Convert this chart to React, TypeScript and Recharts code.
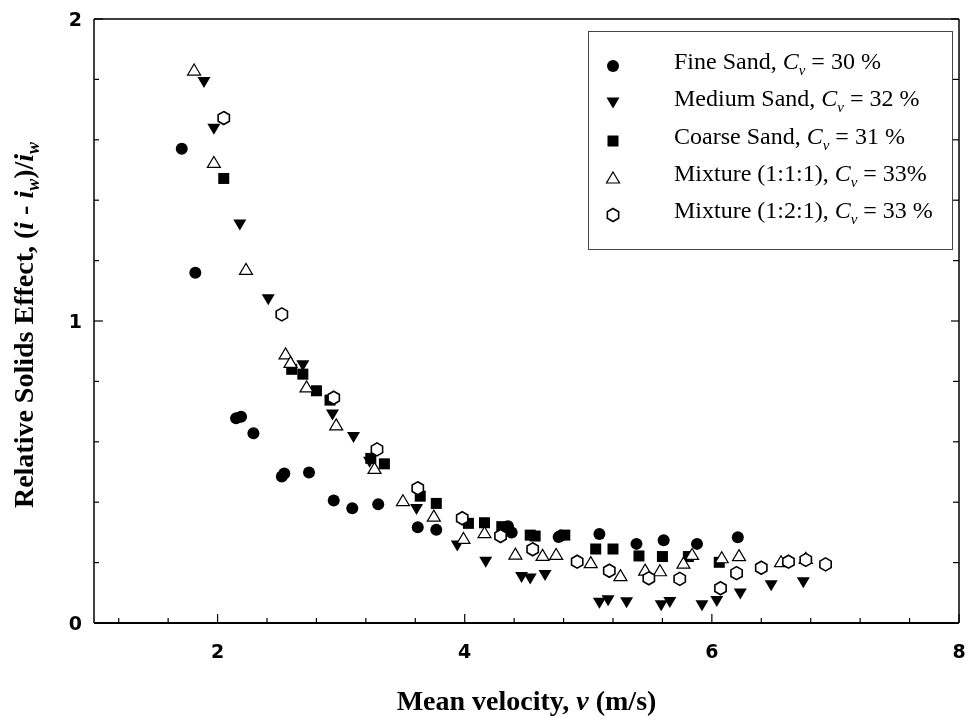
import React from 'react';
import { ScatterChart, Scatter, XAxis, YAxis, Legend } from 'recharts';

// ---- Data (mean velocity v in m/s, relative solids effect) ----
const fineSandV = [1.71, 1.82, 2.15, 2.19, 2.29, 2.52, 2.54, 2.74, 2.94, 3.09, 3.30, 3.62, 3.77, 4.35, 4.38, 4.76, 4.78, 5.09, 5.39, 5.61, 5.88, 6.21];
const fineSandR = [1.57, 1.16, 0.678, 0.683, 0.628, 0.485, 0.495, 0.498, 0.406, 0.38, 0.393, 0.317, 0.309, 0.32, 0.30, 0.285, 0.29, 0.295, 0.262, 0.274, 0.262, 0.284];

const mediumSandV = [1.89, 1.97, 2.18, 2.41, 2.69, 2.93, 3.10, 3.23, 3.61, 3.94, 4.17, 4.46, 4.53, 4.65, 5.09, 5.16, 5.31, 5.59, 5.66, 5.92, 6.04, 6.23, 6.48, 6.74];
const mediumSandR = [1.79, 1.635, 1.318, 1.07, 0.852, 0.689, 0.614, 0.532, 0.376, 0.255, 0.201, 0.151, 0.146, 0.157, 0.065, 0.074, 0.067, 0.057, 0.068, 0.057, 0.071, 0.096, 0.123, 0.133];

const coarseSandV = [2.05, 2.60, 2.69, 2.80, 2.91, 3.24, 3.35, 3.64, 3.77, 4.03, 4.16, 4.30, 4.53, 4.57, 4.81, 5.06, 5.20, 5.41, 5.60, 5.81, 6.06];
const coarseSandR = [1.472, 0.84, 0.824, 0.769, 0.738, 0.545, 0.527, 0.42, 0.396, 0.33, 0.332, 0.319, 0.291, 0.288, 0.291, 0.245, 0.245, 0.222, 0.22, 0.22, 0.201];

const mix111V = [1.81, 1.97, 2.23, 2.55, 2.59, 2.72, 2.96, 3.27, 3.50, 3.75, 3.99, 4.16, 4.41, 4.63, 4.74, 5.02, 5.26, 5.46, 5.58, 5.77, 5.84, 6.08, 6.22, 6.56, 6.76];
const mix111R = [1.831, 1.525, 1.171, 0.891, 0.863, 0.782, 0.656, 0.512, 0.405, 0.354, 0.28, 0.299, 0.228, 0.224, 0.227, 0.2, 0.157, 0.175, 0.173, 0.198, 0.227, 0.216, 0.223, 0.203, 0.214];

const mix121V = [2.05, 2.52, 2.94, 3.29, 3.62, 3.98, 4.29, 4.55, 4.91, 5.17, 5.49, 5.74, 6.07, 6.20, 6.40, 6.62, 6.76, 6.92];
const mix121R = [1.672, 1.022, 0.746, 0.575, 0.446, 0.347, 0.288, 0.244, 0.203, 0.173, 0.148, 0.146, 0.115, 0.165, 0.183, 0.203, 0.209, 0.194];

const xTicks = [1.2, 1.6, 2, 2.4, 2.8, 3.2, 3.6, 4, 4.4, 4.8, 5.2, 5.6, 6, 6.4, 6.8, 7.2, 7.6, 8];
const xLabelTicks = [2, 4, 6, 8];
const yTicks = [0, 0.2, 0.4, 0.6, 0.8, 1, 1.2, 1.4, 1.6, 1.8, 2];
const yLabelTicks = [0, 1, 2];

const seriesNames = ['Fine Sand', 'Medium Sand', 'Coarse Sand', 'Mixture (1:1:1)', 'Mixture (1:2:1)'];
const seriesCv = ['= 30 %', '= 32 %', '= 31 %', '= 33%', '= 33 %'];

const toPoints = (vs: number[], rs: number[]) => vs.map((v, i) => ({ v, r: rs[i] }));
const fineData = toPoints(fineSandV, fineSandR);
const mediumData = toPoints(mediumSandV, mediumSandR);
const coarseData = toPoints(coarseSandV, coarseSandR);
const mix111Data = toPoints(mix111V, mix111R);
const mix121Data = toPoints(mix121V, mix121R);

// ---- Marker shapes ----
const CircleMark = ({ cx, cy }: any) => <circle cx={cx} cy={cy} r={6} fill="#000" />;
const DownTriMark = ({ cx, cy }: any) => (
  <polygon points={`${cx - 6.5},${cy - 5.5} ${cx + 6.5},${cy - 5.5} ${cx},${cy + 5.5}`} fill="#000" />
);
const SquareMark = ({ cx, cy }: any) => <rect x={cx - 5.5} y={cy - 5.5} width={11} height={11} fill="#000" />;
const UpTriMark = ({ cx, cy }: any) => (
  <polygon points={`${cx},${cy - 6} ${cx + 6.5},${cy + 5} ${cx - 6.5},${cy + 5}`} fill="#fff" stroke="#000" strokeWidth={1.2} />
);
const HexMark = ({ cx, cy }: any) => {
  const r = 6.5;
  const pts = [-90, -30, 30, 90, 150, 210]
    .map((a) => `${cx + r * Math.cos((a * Math.PI) / 180)},${cy + r * Math.sin((a * Math.PI) / 180)}`)
    .join(' ');
  return <polygon points={pts} fill="#fff" stroke="#000" strokeWidth={1.6} />;
};
const markers = [CircleMark, DownTriMark, SquareMark, UpTriMark, HexMark];

const isIn = (v: number, list: number[]) => list.some((m) => Math.abs(m - v) < 1e-6);

const tickFont = { fontFamily: '"DejaVu Sans", "Liberation Sans", Arial, sans-serif', fontWeight: 'bold' as const, fontSize: 19 };

const BottomTick = ({ x, y, payload }: any) => {
  const major = isIn(payload.value, xLabelTicks);
  return (
    <g>
      <line x1={x} x2={x} y1={y} y2={y - (major ? 9 : 5)} stroke="#000" strokeWidth={1.2} />
      {major && (
        <text x={x} y={y + 35} textAnchor="middle" fill="#000" {...tickFont}>
          {payload.value}
        </text>
      )}
    </g>
  );
};
const TopTick = ({ x, y, payload }: any) => {
  const major = isIn(payload.value, xLabelTicks);
  return <line x1={x} x2={x} y1={y} y2={y + (major ? 8 : 5)} stroke="#000" strokeWidth={1.2} />;
};
const LeftTick = ({ x, y, payload }: any) => {
  const major = isIn(payload.value, yLabelTicks);
  return (
    <g>
      <line x1={x} x2={x + (major ? 9 : 5)} y1={y} y2={y} stroke="#000" strokeWidth={1.2} />
      {major && (
        <text x={x - 12} y={y} dy="0.36em" textAnchor="end" fill="#000" {...tickFont}>
          {payload.value}
        </text>
      )}
    </g>
  );
};
const RightTick = ({ x, y, payload }: any) => {
  const major = isIn(payload.value, yLabelTicks);
  return <line x1={x} x2={x - (major ? 8 : 6)} y1={y} y2={y} stroke="#000" strokeWidth={1.2} />;
};

const titleFont = { fontFamily: '"Liberation Serif", "Times New Roman", serif', fontWeight: 'bold' as const, fontSize: 28, fill: '#000' };

const XTitle = (props: any) => {
  const vb = props.viewBox;
  return (
    <text x={vb.x + vb.width / 2} y={vb.y + 87} textAnchor="middle" {...titleFont}>
      Mean velocity, <tspan fontStyle="italic">v</tspan> (m/s)
    </text>
  );
};

const YTitle = (props: any) => {
  const vb = props.viewBox;
  const cx = vb.x + 33;
  const cy = vb.y + vb.height / 2 + 4;
  return (
    <text x={cx} y={cy} transform={`rotate(-90, ${cx}, ${cy})`} textAnchor="middle" {...titleFont}>
      Relative Solids Effect, (<tspan fontStyle="italic">i</tspan> - <tspan fontStyle="italic">i</tspan>
      <tspan fontStyle="italic" fontSize={18} dy={6}>w</tspan>
      <tspan dy={-6}>)/</tspan>
      <tspan fontStyle="italic">i</tspan>
      <tspan fontStyle="italic" fontSize={18} dy={6}>w</tspan>
    </text>
  );
};

const LegendBox = () => (
  <div
    style={{
      position: 'relative',
      boxSizing: 'border-box',
      width: 365,
      height: 219,
      border: '1.5px solid #444',
      background: '#fff',
      fontFamily: '"Liberation Serif", "Times New Roman", serif',
      fontSize: 24,
      color: '#000',
    }}
  >
    {seriesNames.map((name, i) => {
      const M = markers[i];
      return (
        <div key={name} style={{ position: 'absolute', left: 0, top: 11 + i * 37.3, width: '100%', height: 37 }}>
          <svg width={16} height={16} style={{ position: 'absolute', left: 16, top: 15 }}>
            <M cx={8} cy={8} />
          </svg>
          <span style={{ position: 'absolute', left: 85, top: 0, whiteSpace: 'nowrap', lineHeight: '37px' }}>
            {name}, <i>C</i>
            <i style={{ fontSize: 15, position: 'relative', top: 6 }}>v</i> {seriesCv[i]}
          </span>
        </div>
      );
    })}
  </div>
);

export default function App() {
  return (
    <div style={{ position: 'fixed', left: 0, top: 0 }}>
      <ScatterChart width={967} height={717} margin={{ top: 18, right: 7, left: 0, bottom: 0 }}>
        <XAxis
          xAxisId="b"
          dataKey="v"
          type="number"
          domain={[1, 8]}
          ticks={xTicks}
          interval={0}
          allowDataOverflow
          height={94}
          tickSize={0}
          tickMargin={0}
          tickLine={false}
          tick={<BottomTick />}
          axisLine={{ stroke: '#000', strokeWidth: 2 }}
          label={<XTitle />}
        />
        <XAxis
          xAxisId="t"
          orientation="top"
          type="number"
          domain={[1, 8]}
          ticks={xTicks}
          interval={0}
          allowDataOverflow
          height={1}
          tickSize={0}
          tickMargin={0}
          tickLine={false}
          tick={<TopTick />}
          axisLine={{ stroke: '#000', strokeWidth: 1.3 }}
        />
        <YAxis
          yAxisId="l"
          dataKey="r"
          type="number"
          domain={[0, 2]}
          ticks={yTicks}
          interval={0}
          allowDataOverflow
          width={94}
          tickSize={0}
          tickMargin={0}
          tickLine={false}
          tick={<LeftTick />}
          axisLine={{ stroke: '#000', strokeWidth: 1.5 }}
          label={<YTitle />}
        />
        <YAxis
          yAxisId="r"
          orientation="right"
          type="number"
          domain={[0, 2]}
          ticks={yTicks}
          interval={0}
          allowDataOverflow
          width={1}
          tickSize={0}
          tickMargin={0}
          tickLine={false}
          tick={<RightTick />}
          axisLine={{ stroke: '#000', strokeWidth: 1.5 }}
        />
        <Legend
          layout="vertical"
          align="center"
          verticalAlign="middle"
          content={<LegendBox />}
          wrapperStyle={{ position: 'absolute', left: 588, top: 31, width: 365, height: 219 }}
        />
        <Scatter name={seriesNames[0]} data={fineData} xAxisId="b" yAxisId="l" shape={CircleMark} isAnimationActive={false} />
        <Scatter name={seriesNames[1]} data={mediumData} xAxisId="b" yAxisId="l" shape={DownTriMark} isAnimationActive={false} />
        <Scatter name={seriesNames[2]} data={coarseData} xAxisId="b" yAxisId="l" shape={SquareMark} isAnimationActive={false} />
        <Scatter name={seriesNames[3]} data={mix111Data} xAxisId="b" yAxisId="l" shape={UpTriMark} isAnimationActive={false} />
        <Scatter name={seriesNames[4]} data={mix121Data} xAxisId="b" yAxisId="l" shape={HexMark} isAnimationActive={false} />
      </ScatterChart>
    </div>
  );
}
